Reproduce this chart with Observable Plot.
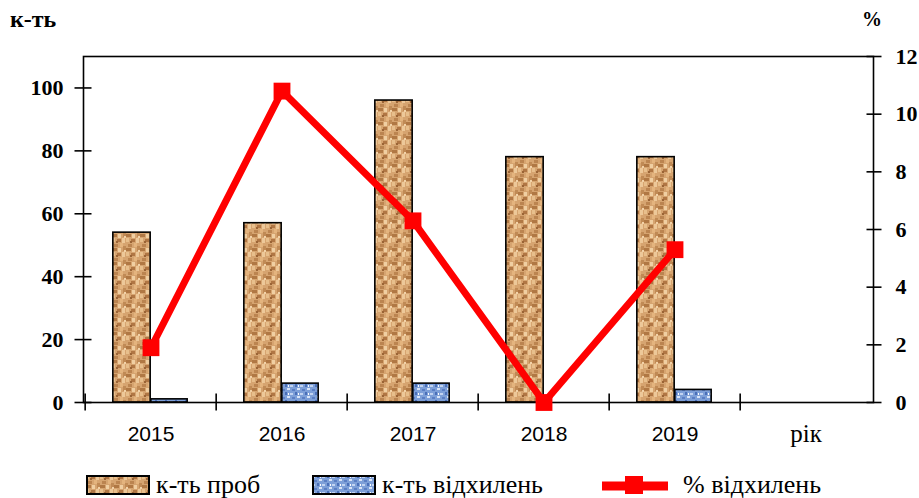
<!DOCTYPE html>
<html><head><meta charset="utf-8">
<script src="https://cdn.jsdelivr.net/npm/d3@7"></script>
<script src="https://cdn.jsdelivr.net/npm/@observablehq/plot@0.6"></script>
<style>
body{margin:0;background:#fff;width:919px;height:498px;overflow:hidden;position:relative;font-family:"Liberation Serif","DejaVu Serif","Times New Roman",serif;color:#000;}
#chart{position:absolute;left:0;top:0;}
.ttl{position:absolute;font-weight:bold;font-family:"Liberation Serif","DejaVu Serif",serif;}
.leg{position:absolute;top:470px;height:30px;display:flex;align-items:center;font-size:26px;font-family:"Liberation Serif","DejaVu Serif",serif;white-space:nowrap;}
.leg svg{margin-right:6px;}
</style>
</head><body>
<div id="chart"></div>
<div class="ttl" style="left:10px;top:6px;font-size:24px;">к-ть</div>
<div class="ttl" style="left:862px;top:8px;font-size:20px;">%</div>
<div id="legend"></div>
<script>
const years = ["2015", "2016", "2017", "2018", "2019"];
const xCategories = ["2015", "2016", "2017", "2018", "2019", "рік"];
const samples = [54, 57, 96, 78, 78];
const deviations = [1, 6, 6, 0, 4];
const deviationPct = [1.9, 10.8, 6.3, 0, 5.3];
const leftTicks = [0, 20, 40, 60, 80, 100];
const rightTicks = [0, 2, 4, 6, 8, 10, 12];
const leftMax = 110, rightMax = 12;
const seriesNames = ["к-ть проб", "к-ть відхилень", "% відхилень"];

const W = 919, H = 460, mL = 83, mR = 46, mT = 56, mB = 58;
const bw = (W - mL - mR) / xCategories.length;
const barW1 = 38, barW2 = 37;
const k = leftMax / rightMax;

const rows = years.map((y, i) => ({year: y, samples: samples[i], dev: deviations[i], pct: deviationPct[i]}));

const serif = "'Liberation Serif', 'DejaVu Serif', serif";
const sans = "'Liberation Sans', Arial, sans-serif";

const plot = Plot.plot({
  width: W, height: H,
  marginLeft: mL, marginRight: mR, marginTop: mT, marginBottom: mB,
  style: {background: "#fff", color: "#000", overflow: "visible"},
  x: {type: "band", domain: xCategories, padding: 0, axis: null},
  y: {domain: [0, leftMax], axis: null},
  marks: [
    Plot.barY(rows, {x: "year", y: "samples", fill: "url(#brownTex)", stroke: "#000", strokeWidth: 1.6,
      insetLeft: bw / 2 - barW1, insetRight: bw / 2}),
    Plot.barY(rows, {x: "year", y: "dev", fill: "url(#blueTex)", stroke: "#000", strokeWidth: 1.6,
      insetLeft: bw / 2, insetRight: bw / 2 - barW2}),
    Plot.frame({stroke: "#000", strokeWidth: 1.6}),
    Plot.axisY(leftTicks, {anchor: "left", fill: "none", stroke: "#000", strokeWidth: 1.6, tickSize: 17, dx: 8.5, label: null}),
    Plot.axisY(leftTicks, {anchor: "left", tickSize: 0, tickPadding: 20, fontSize: 22, fontWeight: "bold", fontFamily: serif, label: null}),
    Plot.axisY(rightTicks.map(v => v * k), {anchor: "right", fill: "none", stroke: "#000", strokeWidth: 1.6, tickSize: 15, dx: -7.5, label: null}),
    Plot.axisY(rightTicks.map(v => v * k), {anchor: "right", tickSize: 0, tickPadding: 22, fontSize: 22, fontWeight: "bold", fontFamily: serif,
      tickFormat: v => String(Math.round(v / k)), label: null}),
    Plot.axisX(xCategories, {anchor: "bottom", fill: "none", stroke: "#000", strokeWidth: 1.6, tickSize: 17, dx: -bw / 2, dy: -8.5, label: null}),
    Plot.axisX(years, {anchor: "bottom", tickSize: 0, tickPadding: 24, fontSize: 21, fontFamily: sans, label: null}),
    Plot.axisX(["рік"], {anchor: "bottom", tickSize: 0, tickPadding: 22, fontSize: 25, fontFamily: serif, label: null}),
    Plot.line(rows, {x: "year", y: d => d.pct * k, stroke: "#f00", strokeWidth: 7, strokeLinejoin: "miter"}),
    Plot.dot(rows, {x: "year", y: d => d.pct * k, symbol: "square", r: 9.5, fill: "#f00", stroke: "none"})
  ]
});

const defsHTML = `
<pattern id="brownTex" patternUnits="userSpaceOnUse" width="14" height="14">
  <rect width="14" height="14" fill="#d6a470"/>
  <rect x="0" y="0" width="3" height="4" fill="#e8bf8c"/>
  <rect x="5" y="1" width="4" height="3" fill="#b07644"/>
  <rect x="10" y="0" width="3" height="5" fill="#edc899"/>
  <rect x="2" y="6" width="4" height="3" fill="#bb8450"/>
  <rect x="8" y="5" width="3" height="4" fill="#e4b47e"/>
  <rect x="0" y="10" width="5" height="3" fill="#b07844"/>
  <rect x="6" y="10" width="3" height="4" fill="#f0cfa2"/>
  <rect x="11" y="8" width="3" height="5" fill="#c08a55"/>
  <rect x="4" y="3" width="2" height="2" fill="#9a6436"/>
  <rect x="12" y="12" width="2" height="2" fill="#f2d2a8"/>
</pattern>
<pattern id="blueTex" patternUnits="userSpaceOnUse" width="10" height="8">
  <rect width="10" height="8" fill="#7d9fd8"/>
  <rect x="0" y="1" width="3" height="2" fill="#c3d4f1"/>
  <rect x="5" y="0" width="2" height="3" fill="#4a6fb8"/>
  <rect x="7" y="4" width="3" height="2" fill="#d8e3f6"/>
  <rect x="2" y="5" width="3" height="2" fill="#5a7ec4"/>
  <rect x="8" y="1" width="1" height="2" fill="#ffffff"/>
</pattern>`;
const defs = document.createElementNS("http://www.w3.org/2000/svg", "defs");
defs.innerHTML = defsHTML;
plot.insertBefore(defs, plot.firstChild);
document.getElementById("chart").appendChild(plot);

const legend = document.getElementById("legend");
const items = [
  {left: 86, name: seriesNames[0], sw: `<svg width="64" height="20"><rect x="1" y="1" width="62" height="18" fill="url(#brownTex)" stroke="#000" stroke-width="2"/></svg>`},
  {left: 312, name: seriesNames[1], sw: `<svg width="64" height="20"><rect x="1" y="1" width="62" height="18" fill="url(#blueTex)" stroke="#000" stroke-width="2"/></svg>`},
  {left: 601, name: seriesNames[2], sw: `<svg width="68" height="22" style="margin-right:14px"><line x1="1" x2="67" y1="12" y2="12" stroke="#f00" stroke-width="9"/><rect x="24" y="2" width="18" height="18" fill="#f00"/></svg>`}
];
for (const it of items) {
  const d = document.createElement("div");
  d.className = "leg";
  d.style.left = it.left + "px";
  d.innerHTML = it.sw + `<span>${it.name}</span>`;
  legend.appendChild(d);
}
</script>
</body></html>
